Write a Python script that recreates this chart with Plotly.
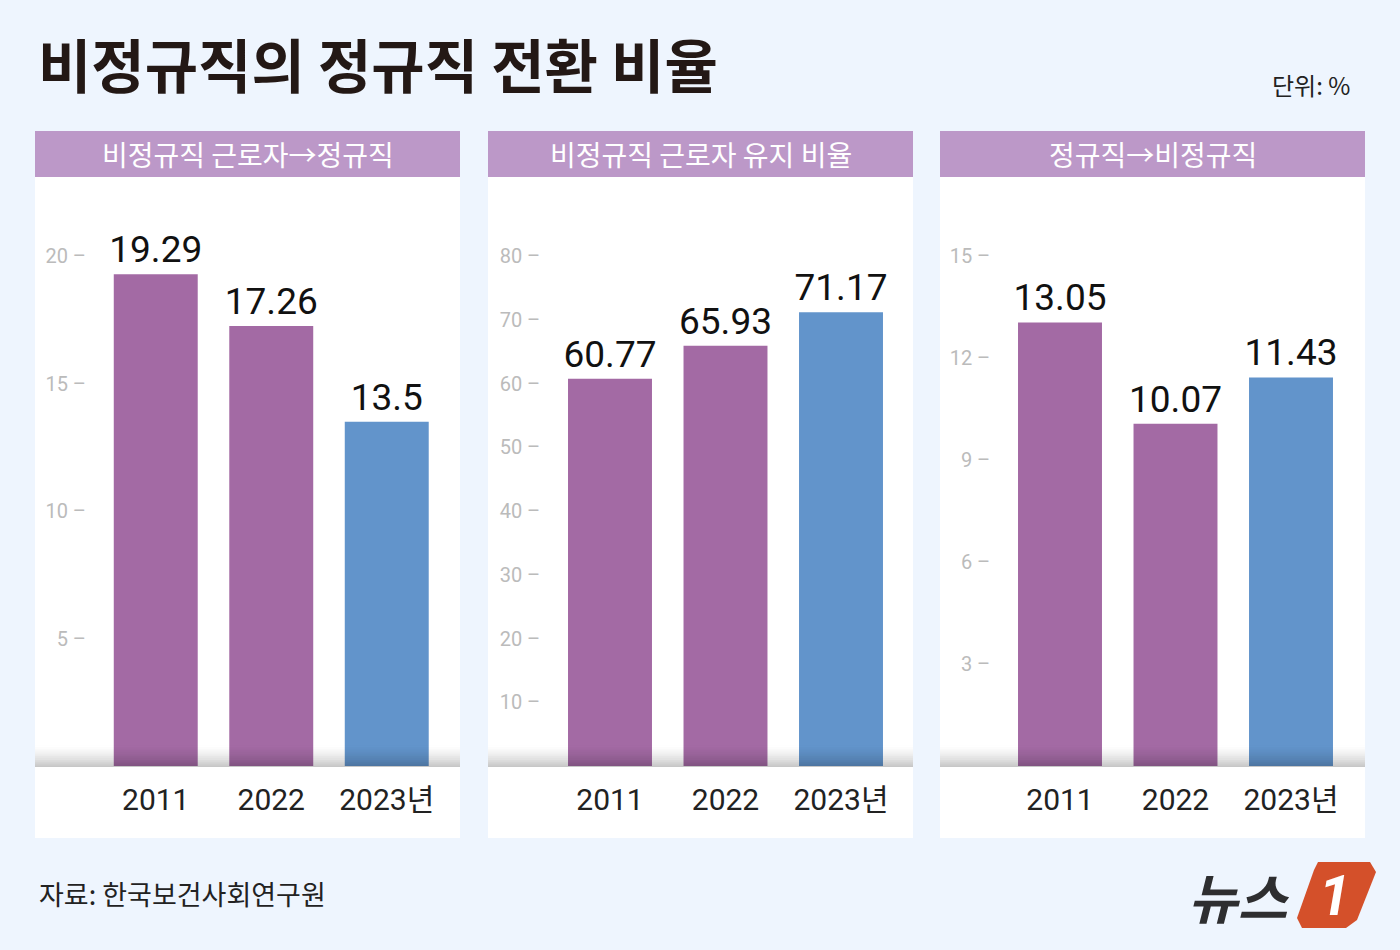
import plotly.graph_objects as go

W, H = 1400, 950

title = "비정규직의 정규직 전환 비율"
unit_label = "단위: %"
source = "자료: 한국보건사회연구원"
panel_titles = ["비정규직 근로자→정규직", "비정규직 근로자 유지 비율", "정규직→비정규직"]
years = ["2011", "2022", "2023년"]
vals_to_regular = [19.29, 17.26, 13.5]
vals_keep = [60.77, 65.93, 71.17]
vals_to_nonregular = [13.05, 10.07, 11.43]
series = [vals_to_regular, vals_keep, vals_to_nonregular]
tick_sets = [[5, 10, 15, 20], [10, 20, 30, 40, 50, 60, 70, 80], [3, 6, 9, 12, 15]]
# axis tops chosen so ticks line up with reference
y_tops = [22.2, 88.8, 16.65]

PURPLE = "#A36AA4"
BLUE = "#6294CB"
HEAD = "#BC98C8"
BG = "#EEF5FE"
NUM = "Roboto, Noto Sans CJK KR, sans-serif"
KR = "Noto Sans CJK KR, sans-serif"

def px(x):
    return x / W

def py(y):
    return 1 - y / H

fig = go.Figure()
layout = dict(
    width=W, height=H, margin=dict(l=0, r=0, t=0, b=0),
    paper_bgcolor=BG, plot_bgcolor="rgba(0,0,0,0)", showlegend=False,
    bargap=0.273,
)

panel_left = [35, 488, 940]
panel_w = 425
first_center = [155.75, 610, 1060]
step = 115.5
shapes = []
annotations = []

for i in range(3):
    sfx = "" if i == 0 else str(i + 1)
    fig.add_trace(go.Bar(
        x=years, y=series[i],
        marker=dict(color=[PURPLE, PURPLE, BLUE], line=dict(width=0)),
        text=[f"{v:g}" for v in series[i]], textposition="outside",
        constraintext="none",
        textfont=dict(family=NUM, size=37, color="#111111"),
        cliponaxis=False, xaxis="x" + sfx, yaxis="y" + sfx,
    ))
    x0 = first_center[i] - step / 2
    x1 = x0 + 3 * step
    layout["xaxis" + sfx] = dict(
        domain=[px(x0), px(x1)], anchor="y" + sfx, showgrid=False, zeroline=False,
        showline=False, ticks="", tickfont=dict(family=NUM, size=30, color="#222222"),
        ticklabelstandoff=13, fixedrange=True,
    )
    layout["yaxis" + sfx] = dict(
        domain=[py(766), py(200)], anchor="x" + sfx, range=[0, y_tops[i]],
        showgrid=False, zeroline=False, showline=False, ticks="",
        tickvals=tick_sets[i], ticktext=[f"{v} –" for v in tick_sets[i]],
        tickfont=dict(family=NUM, size=20, color="#BBBBBB"),
        ticklabelstandoff=11, fixedrange=True,
    )
    L = panel_left[i]
    shapes.append(dict(type="rect", xref="paper", yref="paper", layer="below",
                       x0=px(L), x1=px(L + panel_w), y0=py(838), y1=py(131),
                       fillcolor="white", line=dict(width=0)))
    shapes.append(dict(type="rect", xref="paper", yref="paper", layer="below",
                       x0=px(L), x1=px(L + panel_w), y0=py(177), y1=py(131),
                       fillcolor=HEAD, line=dict(width=0)))
    annotations.append(dict(text=panel_titles[i], xref="paper", yref="paper",
                            x=px(L + panel_w / 2), y=py(154), showarrow=False,
                            xanchor="center", yanchor="middle",
                            font=dict(family=KR, size=28, color="white")))
    n = 12
    for k in range(n):
        ya = 745 + k * (22 / n)
        yb = ya + 22 / n
        a = 0.22 * ((k + 1) / n) ** 1.6
        shapes.append(dict(type="rect", xref="paper", yref="paper", layer="above",
                           x0=px(L), x1=px(L + panel_w), y0=py(yb), y1=py(ya),
                           fillcolor=f"rgba(0,0,0,{a:.3f})", line=dict(width=0)))

annotations.append(dict(text=f"<b>{title}</b>", xref="paper", yref="paper",
                        x=px(36), y=py(63), showarrow=False, xanchor="left", yanchor="middle",
                        font=dict(family=KR, size=58, color="#231815")))
annotations.append(dict(text=unit_label, xref="paper", yref="paper",
                        x=px(1352), y=py(84), showarrow=False, xanchor="right", yanchor="middle",
                        font=dict(family=KR, size=24, color="#222222")))
annotations.append(dict(text=source, xref="paper", yref="paper",
                        x=px(37), y=py(893), showarrow=False, xanchor="left", yanchor="middle",
                        font=dict(family=KR, size=27, color="#222222")))
annotations.append(dict(text="<b>뉴스</b>", xref="paper", yref="paper",
                        x=px(1292), y=py(895), showarrow=False, xanchor="right", yanchor="middle",
                        font=dict(family=KR, size=54, color="#2E2E30", style="italic")))
pts = [(1318, 862), (1370, 862), (1376, 872), (1357, 920), (1346, 928),
       (1302, 928), (1297, 918), (1314, 870)]
path = "M " + " L ".join(f"{px(a):.5f},{py(b):.5f}" for a, b in pts) + " Z"
shapes.append(dict(type="path", xref="paper", yref="paper", path=path,
                   fillcolor="#D4502A", line=dict(width=0), layer="below"))
annotations.append(dict(text="<b>1</b>", xref="paper", yref="paper",
                        x=px(1334), y=py(896), showarrow=False, xanchor="center", yanchor="middle",
                        font=dict(family="Roboto", size=56, color="white", style="italic")))

layout["shapes"] = shapes
layout["annotations"] = annotations
fig.update_layout(**layout)
fig.write_html("out.html")
